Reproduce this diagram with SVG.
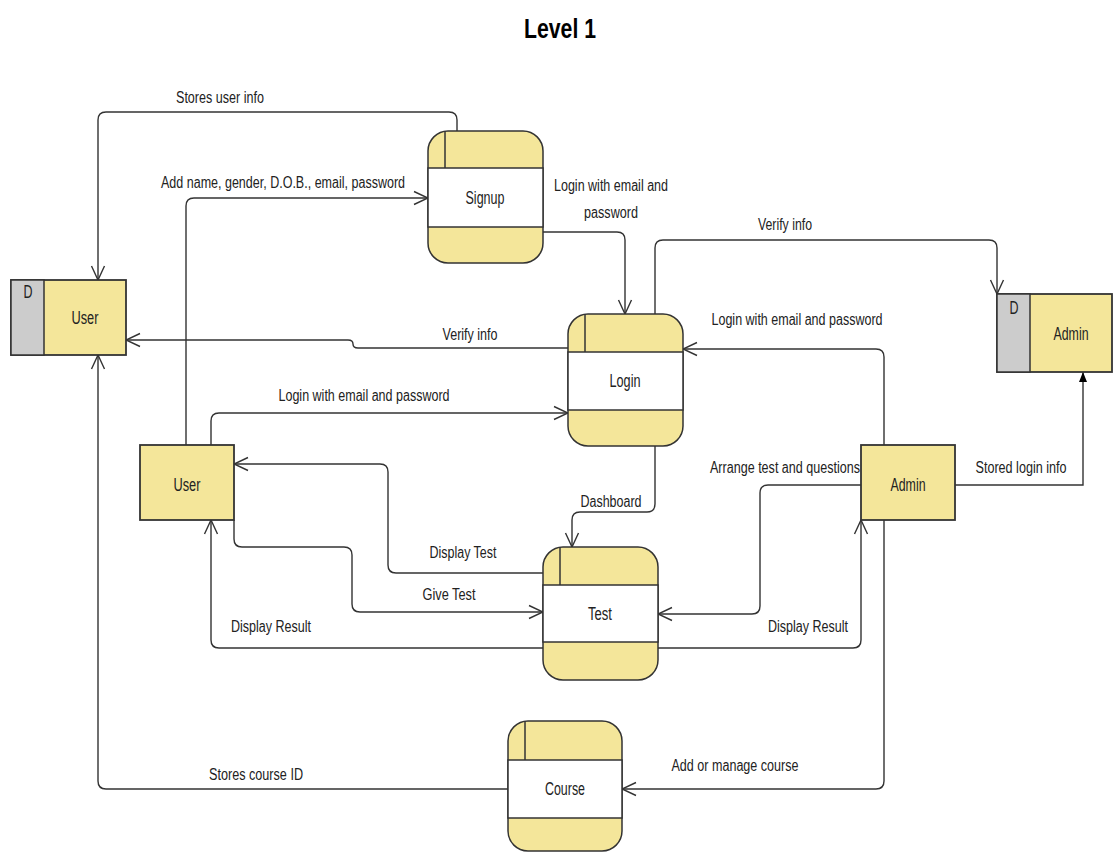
<svg xmlns="http://www.w3.org/2000/svg" width="1113" height="852" viewBox="0 0 1113 852">
  <style>
    .bg { fill: #ffffff; }
    .proc { fill: #F4E69A; stroke: #333333; stroke-width: 1.5; }
    .band { fill: #ffffff; stroke: #333333; stroke-width: 1.5; }
    .rule { stroke: #333333; stroke-width: 1.5; fill: none; }
    .ent { fill: #F4E69A; stroke: #333333; stroke-width: 1.8; }
    .tag { fill: #CCCCCC; stroke: #333333; stroke-width: 1.5; }
    .flow { fill: none; stroke: #333333; stroke-width: 1.4; }
    .lbl { font-family: "Liberation Sans", Arial, sans-serif; font-size: 16px; fill: #222222; text-anchor: middle; }
    .name { font-family: "Liberation Sans", Arial, sans-serif; font-size: 18px; fill: #222222; text-anchor: middle; }
    .title { font-family: "Liberation Sans", Arial, sans-serif; font-size: 27px; font-weight: bold; fill: #000000; text-anchor: middle; }
  </style>
  <defs>
    <marker id="open" markerUnits="userSpaceOnUse" markerWidth="16" markerHeight="16" viewBox="0 0 16 16" refX="15" refY="8" orient="auto">
      <path d="M1 1.5 L15 8 L1 14.5" fill="none" stroke="#333333" stroke-width="1.4"/>
    </marker>
    <marker id="solid" markerUnits="userSpaceOnUse" markerWidth="12" markerHeight="12" viewBox="0 0 12 12" refX="11" refY="6" orient="auto">
      <path d="M1 2 L11 6 L1 10 Z" fill="#000000"/>
    </marker>
  </defs>

  <rect class="bg" x="0" y="0" width="1113" height="852"/>

  <text class="title" x="560" y="38" textLength="72" lengthAdjust="spacingAndGlyphs">Level 1</text>

  <!-- data flows -->
  <g id="connectors">
    <path class="flow" d="M457 131 V120 q0 -8 -8 -8 H106 q-8 0 -8 8 V280" marker-end="url(#open)"/>
    <path class="flow" d="M186 445 V206 q0 -8 8 -8 H428" marker-end="url(#open)"/>
    <path class="flow" d="M543 232 H617 q8 0 8 8 V314" marker-end="url(#open)"/>
    <path class="flow" d="M655 314 V248 q0 -8 8 -8 H989 q8 0 8 8 V294" marker-end="url(#open)"/>
    <path class="flow" d="M568 348 H358 q-5 0 -5 -4 q0 -4 -5 -4 H126" marker-end="url(#open)"/>
    <path class="flow" d="M211 445 V421 q0 -8 8 -8 H568" marker-end="url(#open)"/>
    <path class="flow" d="M884 445 V357 q0 -8 -8 -8 H683" marker-end="url(#open)"/>
    <path class="flow" d="M955 485 H1083 V372" marker-end="url(#solid)"/>
    <path class="flow" d="M655 446 V504 q0 8 -8 8 H580 q-8 0 -8 8 V547" marker-end="url(#open)"/>
    <path class="flow" d="M543 573 H396 q-8 0 -8 -8 V472 q0 -8 -8 -8 H234" marker-end="url(#open)"/>
    <path class="flow" d="M234 520 V539 q0 8 8 8 H344 q8 0 8 8 V604 q0 8 8 8 H543" marker-end="url(#open)"/>
    <path class="flow" d="M543 648 H219 q-8 0 -8 -8 V520" marker-end="url(#open)"/>
    <path class="flow" d="M861 485 H768 q-8 0 -8 8 V606 q0 8 -8 8 H658" marker-end="url(#open)"/>
    <path class="flow" d="M658 648 H853 q8 0 8 -8 V520" marker-end="url(#open)"/>
    <path class="flow" d="M884 520 V781 q0 8 -8 8 H622" marker-end="url(#open)"/>
    <path class="flow" d="M508 789 H106 q-8 0 -8 -8 V355" marker-end="url(#open)"/>

    <text class="lbl" x="220" y="103" textLength="88" lengthAdjust="spacingAndGlyphs">Stores user info</text>
    <text class="lbl" x="283" y="188" textLength="244" lengthAdjust="spacingAndGlyphs">Add name, gender, D.O.B., email, password</text>
    <text class="lbl" x="611" y="191" textLength="114" lengthAdjust="spacingAndGlyphs">Login with email and</text>
    <text class="lbl" x="611" y="218" textLength="54" lengthAdjust="spacingAndGlyphs">password</text>
    <text class="lbl" x="785" y="230" textLength="54" lengthAdjust="spacingAndGlyphs">Verify info</text>
    <text class="lbl" x="470" y="340" textLength="55" lengthAdjust="spacingAndGlyphs">Verify info</text>
    <text class="lbl" x="797" y="325" textLength="171" lengthAdjust="spacingAndGlyphs">Login with email and password</text>
    <text class="lbl" x="364" y="401" textLength="171" lengthAdjust="spacingAndGlyphs">Login with email and password</text>
    <text class="lbl" x="1021" y="473" textLength="91" lengthAdjust="spacingAndGlyphs">Stored login info</text>
    <text class="lbl" x="611" y="507" textLength="61" lengthAdjust="spacingAndGlyphs">Dashboard</text>
    <text class="lbl" x="785" y="473" textLength="150" lengthAdjust="spacingAndGlyphs">Arrange test and questions</text>
    <text class="lbl" x="463" y="558" textLength="67" lengthAdjust="spacingAndGlyphs">Display Test</text>
    <text class="lbl" x="449" y="600" textLength="53" lengthAdjust="spacingAndGlyphs">Give Test</text>
    <text class="lbl" x="271" y="632" textLength="80" lengthAdjust="spacingAndGlyphs">Display Result</text>
    <text class="lbl" x="808" y="632" textLength="80" lengthAdjust="spacingAndGlyphs">Display Result</text>
    <text class="lbl" x="735" y="771" textLength="127" lengthAdjust="spacingAndGlyphs">Add or manage course</text>
    <text class="lbl" x="256" y="780" textLength="94" lengthAdjust="spacingAndGlyphs">Stores course ID</text>
  </g>

  <!-- processes -->
  <g id="signup">
    <rect class="proc" x="428" y="131" width="115" height="132" rx="20"/>
    <rect class="band" x="428" y="168" width="115" height="59"/>
    <line class="rule" x1="445" y1="131" x2="445" y2="168"/>
    <text class="name" x="485" y="204" textLength="39" lengthAdjust="spacingAndGlyphs">Signup</text>
  </g>
  <g id="login">
    <rect class="proc" x="568" y="314" width="115" height="132" rx="20"/>
    <rect class="band" x="568" y="352" width="115" height="58"/>
    <line class="rule" x1="585" y1="314" x2="585" y2="352"/>
    <text class="name" x="625" y="387" textLength="31" lengthAdjust="spacingAndGlyphs">Login</text>
  </g>
  <g id="test">
    <rect class="proc" x="543" y="547" width="115" height="133" rx="20"/>
    <rect class="band" x="543" y="585" width="115" height="57"/>
    <line class="rule" x1="560" y1="547" x2="560" y2="585"/>
    <text class="name" x="600" y="620" textLength="24" lengthAdjust="spacingAndGlyphs">Test</text>
  </g>
  <g id="course">
    <rect class="proc" x="508" y="721" width="114" height="130" rx="20"/>
    <rect class="band" x="508" y="760" width="114" height="58"/>
    <line class="rule" x1="525" y1="721" x2="525" y2="760"/>
    <text class="name" x="565" y="795" textLength="40" lengthAdjust="spacingAndGlyphs">Course</text>
  </g>

  <!-- data stores -->
  <g id="user-store">
    <rect class="ent" x="11" y="280" width="115" height="75"/>
    <rect class="tag" x="11" y="280" width="33" height="75"/>
    <text class="name" x="28" y="298" textLength="9" lengthAdjust="spacingAndGlyphs">D</text>
    <text class="name" x="85" y="324" textLength="27" lengthAdjust="spacingAndGlyphs">User</text>
  </g>
  <g id="admin-store">
    <rect class="ent" x="997" y="294" width="115" height="78"/>
    <rect class="tag" x="997" y="294" width="33" height="78"/>
    <text class="name" x="1014" y="314" textLength="9" lengthAdjust="spacingAndGlyphs">D</text>
    <text class="name" x="1071" y="340" textLength="35" lengthAdjust="spacingAndGlyphs">Admin</text>
  </g>

  <!-- external entities -->
  <g id="user">
    <rect class="ent" x="140" y="445" width="94" height="75"/>
    <text class="name" x="187" y="491" textLength="27" lengthAdjust="spacingAndGlyphs">User</text>
  </g>
  <g id="admin">
    <rect class="ent" x="861" y="445" width="94" height="75"/>
    <text class="name" x="908" y="491" textLength="35" lengthAdjust="spacingAndGlyphs">Admin</text>
  </g>
</svg>
